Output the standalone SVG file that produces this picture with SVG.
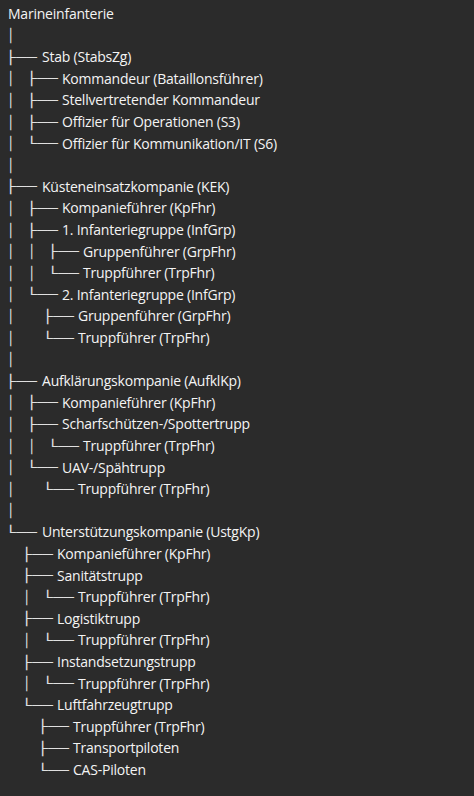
<svg xmlns="http://www.w3.org/2000/svg" width="474" height="796" viewBox="0 0 474 796">
<style>
.t{font-family:"Open Sans","Noto Sans",sans-serif;font-size:14px;letter-spacing:-0.22px;fill:#f4f4f4}
.b{font-family:"DejaVu Sans Mono",monospace;font-size:13px;fill:#e0e0e0}
</style>
<rect width="474" height="796" fill="#2b2b2b"/>
<g id="connectors">
<text class="b" x="7.1" y="40.1">│</text>
<text class="b" x="5.8" y="61.7" textLength="31.2" lengthAdjust="spacingAndGlyphs">├──</text>
<text class="b" x="7.1" y="83.3">│</text><text class="b" x="26.8" y="83.3" textLength="31.2" lengthAdjust="spacingAndGlyphs">├──</text>
<text class="b" x="7.1" y="104.9">│</text><text class="b" x="26.8" y="104.9" textLength="31.2" lengthAdjust="spacingAndGlyphs">├──</text>
<text class="b" x="7.1" y="126.5">│</text><text class="b" x="26.8" y="126.5" textLength="31.2" lengthAdjust="spacingAndGlyphs">├──</text>
<text class="b" x="7.1" y="148.1">│</text><text class="b" x="26.8" y="148.1" textLength="31.2" lengthAdjust="spacingAndGlyphs">└──</text>
<text class="b" x="7.1" y="169.7">│</text>
<text class="b" x="5.8" y="191.3" textLength="31.2" lengthAdjust="spacingAndGlyphs">├──</text>
<text class="b" x="7.1" y="212.9">│</text><text class="b" x="26.8" y="212.9" textLength="31.2" lengthAdjust="spacingAndGlyphs">├──</text>
<text class="b" x="7.1" y="234.5">│</text><text class="b" x="26.8" y="234.5" textLength="31.2" lengthAdjust="spacingAndGlyphs">├──</text>
<text class="b" x="7.1" y="256.1">│</text><text class="b" x="28.1" y="256.1">│</text><text class="b" x="47.8" y="256.1" textLength="31.2" lengthAdjust="spacingAndGlyphs">├──</text>
<text class="b" x="7.1" y="277.7">│</text><text class="b" x="28.1" y="277.7">│</text><text class="b" x="47.8" y="277.7" textLength="31.2" lengthAdjust="spacingAndGlyphs">└──</text>
<text class="b" x="7.1" y="299.3">│</text><text class="b" x="26.8" y="299.3" textLength="31.2" lengthAdjust="spacingAndGlyphs">└──</text>
<text class="b" x="7.1" y="320.9">│</text><text class="b" x="42.8" y="320.9" textLength="31.2" lengthAdjust="spacingAndGlyphs">├──</text>
<text class="b" x="7.1" y="342.5">│</text><text class="b" x="42.8" y="342.5" textLength="31.2" lengthAdjust="spacingAndGlyphs">└──</text>
<text class="b" x="7.1" y="364.1">│</text>
<text class="b" x="5.8" y="385.7" textLength="31.2" lengthAdjust="spacingAndGlyphs">├──</text>
<text class="b" x="7.1" y="407.3">│</text><text class="b" x="26.8" y="407.3" textLength="31.2" lengthAdjust="spacingAndGlyphs">├──</text>
<text class="b" x="7.1" y="428.9">│</text><text class="b" x="26.8" y="428.9" textLength="31.2" lengthAdjust="spacingAndGlyphs">├──</text>
<text class="b" x="7.1" y="450.5">│</text><text class="b" x="28.1" y="450.5">│</text><text class="b" x="47.8" y="450.5" textLength="31.2" lengthAdjust="spacingAndGlyphs">└──</text>
<text class="b" x="7.1" y="472.1">│</text><text class="b" x="26.8" y="472.1" textLength="31.2" lengthAdjust="spacingAndGlyphs">└──</text>
<text class="b" x="7.1" y="493.7">│</text><text class="b" x="42.8" y="493.7" textLength="31.2" lengthAdjust="spacingAndGlyphs">└──</text>
<text class="b" x="7.1" y="515.3">│</text>
<text class="b" x="5.8" y="536.9" textLength="31.2" lengthAdjust="spacingAndGlyphs">└──</text>
<text class="b" x="21.8" y="558.5" textLength="31.2" lengthAdjust="spacingAndGlyphs">├──</text>
<text class="b" x="21.8" y="580.1" textLength="31.2" lengthAdjust="spacingAndGlyphs">├──</text>
<text class="b" x="23.1" y="601.7">│</text><text class="b" x="42.8" y="601.7" textLength="31.2" lengthAdjust="spacingAndGlyphs">└──</text>
<text class="b" x="21.8" y="623.3" textLength="31.2" lengthAdjust="spacingAndGlyphs">├──</text>
<text class="b" x="23.1" y="644.9">│</text><text class="b" x="42.8" y="644.9" textLength="31.2" lengthAdjust="spacingAndGlyphs">└──</text>
<text class="b" x="21.8" y="666.5" textLength="31.2" lengthAdjust="spacingAndGlyphs">├──</text>
<text class="b" x="23.1" y="688.1">│</text><text class="b" x="42.8" y="688.1" textLength="31.2" lengthAdjust="spacingAndGlyphs">└──</text>
<text class="b" x="21.8" y="709.7" textLength="31.2" lengthAdjust="spacingAndGlyphs">└──</text>
<text class="b" x="37.8" y="731.3" textLength="31.2" lengthAdjust="spacingAndGlyphs">├──</text>
<text class="b" x="37.8" y="752.9" textLength="31.2" lengthAdjust="spacingAndGlyphs">├──</text>
<text class="b" x="37.8" y="774.5" textLength="31.2" lengthAdjust="spacingAndGlyphs">└──</text>
</g>
<g id="marineinfanterie"><text class="t" x="8" y="19">Marineinfanterie</text></g>
<g id="stab"><text class="t" x="42" y="62.2">Stab (StabsZg)</text></g>
<g id="stab-kommandeur"><text class="t" x="62" y="83.8">Kommandeur (Bataillonsführer)</text></g>
<g id="stab-stv"><text class="t" x="62" y="105.4">Stellvertretender Kommandeur</text></g>
<g id="stab-s3"><text class="t" x="62" y="127">Offizier für Operationen (S3)</text></g>
<g id="stab-s6"><text class="t" x="62" y="148.6">Offizier für Kommunikation/IT (S6)</text></g>
<g id="kek"><text class="t" x="42" y="191.8">Küsteneinsatzkompanie (KEK)</text></g>
<g id="kek-kpfhr"><text class="t" x="62" y="213.4">Kompanieführer (KpFhr)</text></g>
<g id="kek-inf1"><text class="t" x="62" y="235">1. Infanteriegruppe (InfGrp)</text></g>
<g id="kek-inf1-grpfhr"><text class="t" x="83" y="256.6">Gruppenführer (GrpFhr)</text></g>
<g id="kek-inf1-trpfhr"><text class="t" x="83" y="278.2">Truppführer (TrpFhr)</text></g>
<g id="kek-inf2"><text class="t" x="62" y="299.8">2. Infanteriegruppe (InfGrp)</text></g>
<g id="kek-inf2-grpfhr"><text class="t" x="78" y="321.4">Gruppenführer (GrpFhr)</text></g>
<g id="kek-inf2-trpfhr"><text class="t" x="78" y="343">Truppführer (TrpFhr)</text></g>
<g id="aufklkp"><text class="t" x="42" y="386.2">Aufklärungskompanie (AufklKp)</text></g>
<g id="aufklkp-kpfhr"><text class="t" x="62" y="407.8">Kompanieführer (KpFhr)</text></g>
<g id="aufklkp-scharf"><text class="t" x="62" y="429.4">Scharfschützen-/Spottertrupp</text></g>
<g id="aufklkp-scharf-trpfhr"><text class="t" x="83" y="451">Truppführer (TrpFhr)</text></g>
<g id="aufklkp-uav"><text class="t" x="62" y="472.6">UAV-/Spähtrupp</text></g>
<g id="aufklkp-uav-trpfhr"><text class="t" x="78" y="494.2">Truppführer (TrpFhr)</text></g>
<g id="ustgkp"><text class="t" x="42" y="537.4">Unterstützungskompanie (UstgKp)</text></g>
<g id="ustgkp-kpfhr"><text class="t" x="57" y="559">Kompanieführer (KpFhr)</text></g>
<g id="ustgkp-san"><text class="t" x="57" y="580.6">Sanitätstrupp</text></g>
<g id="ustgkp-san-trpfhr"><text class="t" x="78" y="602.2">Truppführer (TrpFhr)</text></g>
<g id="ustgkp-log"><text class="t" x="57" y="623.8">Logistiktrupp</text></g>
<g id="ustgkp-log-trpfhr"><text class="t" x="78" y="645.4">Truppführer (TrpFhr)</text></g>
<g id="ustgkp-inst"><text class="t" x="57" y="667">Instandsetzungstrupp</text></g>
<g id="ustgkp-inst-trpfhr"><text class="t" x="78" y="688.6">Truppführer (TrpFhr)</text></g>
<g id="ustgkp-lfz"><text class="t" x="57" y="710.2">Luftfahrzeugtrupp</text></g>
<g id="ustgkp-lfz-trpfhr"><text class="t" x="73" y="731.8">Truppführer (TrpFhr)</text></g>
<g id="ustgkp-lfz-transport"><text class="t" x="73" y="753.4">Transportpiloten</text></g>
<g id="ustgkp-lfz-cas"><text class="t" x="73" y="775">CAS-Piloten</text></g>
</svg>
